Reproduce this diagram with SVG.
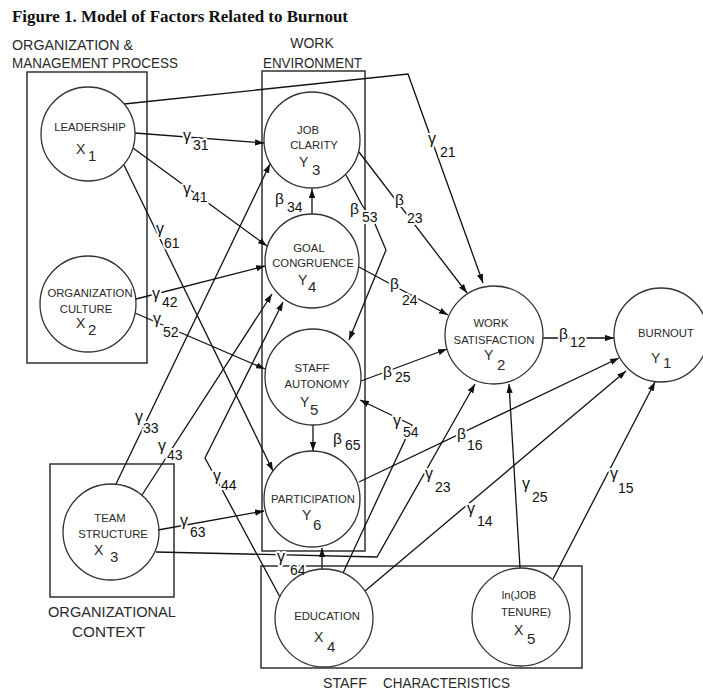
<svg xmlns="http://www.w3.org/2000/svg" width="703" height="691" viewBox="0 0 703 691">
<style>
.bx{fill:none;stroke:#222;stroke-width:1.4}
.nd{fill:none;stroke:#333;stroke-width:1.3}
.ln{fill:none;stroke:#111;stroke-width:1.3;stroke-linejoin:miter}
.ar{marker-end:url(#ah)}
.t{font-family:"Liberation Sans",Arial,sans-serif;fill:#2a2a2a}
.hd{font-size:14px}
.nl{font-size:11.3px;text-anchor:middle}
.v{font-size:14px}
.vs{font-size:15px}
.g{font-family:"Liberation Sans",Arial,sans-serif;font-size:16px;fill:#111}
.b{font-size:15.5px}
.s{font-size:14px}
.h{stroke:#fff;stroke-width:4;paint-order:stroke;stroke-linejoin:round}
.ttl{font-family:"Liberation Serif","Times New Roman",serif;font-weight:bold;font-size:17px;fill:#111}
</style>
<defs>
<marker id="ah" viewBox="0 0 10 7" refX="10" refY="3.5" markerWidth="9" markerHeight="6.5" markerUnits="userSpaceOnUse" orient="auto"><path d="M0,0 L10,3.5 L0,7 z" fill="#111"/></marker>
</defs>
<rect width="703" height="691" fill="#fff"/>
<text class="ttl" x="12" y="22" textLength="336" lengthAdjust="spacingAndGlyphs">Figure 1.  Model of Factors Related to Burnout</text>

<g id="groups">
<rect class="bx" x="27" y="72" width="120" height="291"/>
<rect class="bx" x="262" y="71" width="103" height="480"/>
<rect class="bx" x="50" y="464" width="124" height="133"/>
<rect class="bx" x="261" y="566" width="321" height="102"/>
<text class="t hd" x="12" y="50" textLength="121" lengthAdjust="spacingAndGlyphs">ORGANIZATION &amp;</text>
<text class="t hd" x="12" y="68" textLength="166" lengthAdjust="spacingAndGlyphs">MANAGEMENT PROCESS</text>
<text class="t hd" x="312" y="48" text-anchor="middle">WORK</text>
<text class="t hd" x="263" y="68" textLength="99" lengthAdjust="spacingAndGlyphs">ENVIRONMENT</text>
<text class="t hd" x="48" y="617" textLength="128" lengthAdjust="spacingAndGlyphs">ORGANIZATIONAL</text>
<text class="t hd" x="72" y="637" textLength="73" lengthAdjust="spacingAndGlyphs">CONTEXT</text>
<text class="t hd" x="323" y="688" textLength="44" lengthAdjust="spacingAndGlyphs">STAFF</text>
<text class="t hd" x="383" y="688" textLength="127" lengthAdjust="spacingAndGlyphs">CHARACTERISTICS</text>
</g>

<g id="connectors">
<polyline id="e-g21" class="ln ar" points="124,104 408,74 483,283"/>
<line id="e-g31" class="ln ar" x1="135" y1="133" x2="264" y2="143"/>
<line id="e-g41" class="ln ar" x1="133" y1="148" x2="267" y2="246"/>
<line id="e-g61" class="ln ar" x1="124" y1="165" x2="273" y2="471"/>
<line id="e-g42" class="ln ar" x1="136" y1="299" x2="265" y2="266"/>
<line id="e-g52" class="ln ar" x1="135" y1="313" x2="265" y2="369"/>
<line id="e-g33" class="ln ar" x1="116" y1="484" x2="270" y2="164"/>
<line id="e-g43" class="ln ar" x1="142" y1="495" x2="272" y2="294"/>
<polyline id="e-g44" class="ln ar" points="280,597 205,458 283,302"/>
<line id="e-g63" class="ln ar" x1="158" y1="530" x2="264" y2="511"/>
<polyline id="e-g23" class="ln ar" points="156,552 377,557 475,384"/>
<line id="e-g64" class="ln ar" x1="322" y1="569" x2="322" y2="548"/>
<polyline id="e-g54" class="ln ar" points="343,573 412,425 360,400"/>
<line id="e-g14" class="ln ar" x1="365" y1="591" x2="626" y2="371"/>
<line id="e-g25" class="ln ar" x1="520" y1="568" x2="509" y2="384"/>
<line id="e-g15" class="ln ar" x1="553" y1="579" x2="655" y2="382"/>
<line id="e-b34" class="ln ar" x1="312" y1="214" x2="312" y2="189"/>
<polyline id="e-b53" class="ln ar" points="346,175 362,205 375,224 386,250 349,340"/>
<line id="e-b23" class="ln ar" x1="359" y1="152" x2="467" y2="293"/>
<line id="e-b24" class="ln ar" x1="359" y1="267" x2="448" y2="315"/>
<line id="e-b25" class="ln ar" x1="361" y1="381" x2="447" y2="349"/>
<line id="e-b65" class="ln ar" x1="313" y1="425" x2="313" y2="451"/>
<line id="e-b16" class="ln ar" x1="359" y1="482" x2="619" y2="358"/>
<line id="e-b12" class="ln ar" x1="543" y1="338" x2="614" y2="338"/>

<text class="g h" x="428" y="144">γ<tspan class="s" x="440" y="157">21</tspan></text>
<text class="g h" x="183" y="141">γ<tspan class="s" x="193" y="150">31</tspan></text>
<text class="g h" x="183" y="194">γ<tspan class="s" x="192" y="202">41</tspan></text>
<text class="g h" x="156" y="234">γ<tspan class="s" x="164" y="248">61</tspan></text>
<text class="g h" x="152" y="299">γ<tspan class="s" x="162" y="307">42</tspan></text>
<text class="g h" x="153" y="324">γ<tspan class="s" x="163" y="337">52</tspan></text>
<text class="g h" x="135" y="422">γ<tspan class="s" x="143" y="433">33</tspan></text>
<text class="g h" x="158" y="451">γ<tspan class="s" x="167" y="460">43</tspan></text>
<text class="g h" x="213" y="481">γ<tspan class="s" x="221" y="490">44</tspan></text>
<text class="g h" x="180" y="526">γ<tspan class="s" x="190" y="537">63</tspan></text>
<text class="g h" x="277" y="562">γ<tspan class="s" x="290" y="575">64</tspan></text>
<text class="g h" x="425" y="479">γ<tspan class="s" x="435" y="492">23</tspan></text>
<text class="g h" x="467" y="514">γ<tspan class="s" x="477" y="526">14</tspan></text>
<text class="g" x="522" y="489">γ<tspan class="s" x="532" y="502">25</tspan></text>
<text class="g h" x="610" y="479">γ<tspan class="s" x="618" y="493">15</tspan></text>
<text class="g h" x="393" y="426">γ<tspan class="s" x="403" y="437">54</tspan></text>
<text class="g b h" x="275" y="204">β<tspan class="s" x="287" y="212">34</tspan></text>
<text class="g b h" x="350" y="214">β<tspan class="s" x="362" y="222">53</tspan></text>
<text class="g b h" x="395" y="205">β<tspan class="s" x="407" y="223">23</tspan></text>
<text class="g b h" x="390" y="289">β<tspan class="s" x="402" y="305">24</tspan></text>
<text class="g b h" x="383" y="377">β<tspan class="s" x="395" y="382">25</tspan></text>
<text class="g b h" x="333" y="444">β<tspan class="s" x="345" y="450">65</tspan></text>
<text class="g b h" x="457" y="439">β<tspan class="s" x="467" y="450">16</tspan></text>
<text class="g b h" x="559" y="339">β<tspan class="s" x="570" y="347">12</tspan></text>
</g>

<g id="n-leadership">
<circle class="nd" cx="88" cy="134" r="47"/>
<text class="t nl" x="90" y="131">LEADERSHIP</text>
<text class="t v" x="76" y="154">X</text><text class="t vs" x="88" y="161">1</text>
</g>
<g id="n-culture">
<circle class="nd" cx="88" cy="304" r="48"/>
<text class="t nl" x="90" y="297">ORGANIZATION</text>
<text class="t nl" x="86" y="313">CULTURE</text>
<text class="t v" x="76" y="328">X</text><text class="t vs" x="88" y="335">2</text>
</g>
<g id="n-clarity">
<circle class="nd" cx="312" cy="140" r="48"/>
<text class="t nl" x="308" y="134">JOB</text>
<text class="t nl" x="314" y="149">CLARITY</text>
<text class="t v" x="299" y="167">Y</text><text class="t vs" x="312" y="175">3</text>
</g>
<g id="n-goal">
<circle class="nd" cx="312" cy="261" r="47"/>
<text class="t nl" x="309" y="252">GOAL</text>
<text class="t nl" x="313" y="267">CONGRUENCE</text>
<text class="t v" x="298" y="285">Y</text><text class="t vs" x="308" y="292">4</text>
</g>
<g id="n-autonomy">
<circle class="nd" cx="313" cy="377" r="48"/>
<text class="t nl" x="312" y="372">STAFF</text>
<text class="t nl" x="317" y="388">AUTONOMY</text>
<text class="t v" x="300" y="407">Y</text><text class="t vs" x="310" y="415">5</text>
</g>
<g id="n-participation">
<circle class="nd" cx="312" cy="499" r="48"/>
<text class="t nl" x="313" y="503">PARTICIPATION</text>
<text class="t v" x="302" y="520">Y</text><text class="t vs" x="313" y="530">6</text>
</g>
<g id="n-education">
<circle class="nd" cx="324" cy="618" r="49"/>
<text class="t nl" x="327" y="620">EDUCATION</text>
<text class="t v" x="314" y="642">X</text><text class="t vs" x="327" y="652">4</text>
</g>
<g id="n-tenure">
<circle class="nd" cx="521" cy="617" r="49"/>
<text class="t nl" x="519" y="599">ln(JOB</text>
<text class="t nl" x="526" y="616">TENURE)</text>
<text class="t v" x="514" y="635">X</text><text class="t vs" x="527" y="644">5</text>
</g>
<g id="n-satisfaction">
<circle class="nd" cx="494" cy="335" r="49"/>
<text class="t nl" x="491" y="327">WORK</text>
<text class="t nl" x="494" y="344">SATISFACTION</text>
<text class="t v" x="484" y="360">Y</text><text class="t vs" x="497" y="370">2</text>
</g>
<g id="n-burnout">
<circle class="nd" cx="661" cy="335" r="47"/>
<text class="t nl" x="666" y="337">BURNOUT</text>
<text class="t v" x="651" y="363">Y</text><text class="t vs" x="663" y="368">1</text>
</g>
<g id="n-team">
<circle class="nd" cx="111" cy="532" r="48"/>
<text class="t nl" x="110" y="522">TEAM</text>
<text class="t nl" x="113" y="538">STRUCTURE</text>
<text class="t v" x="94" y="555">X</text><text class="t vs" x="110" y="562">3</text>
</g>
</svg>
